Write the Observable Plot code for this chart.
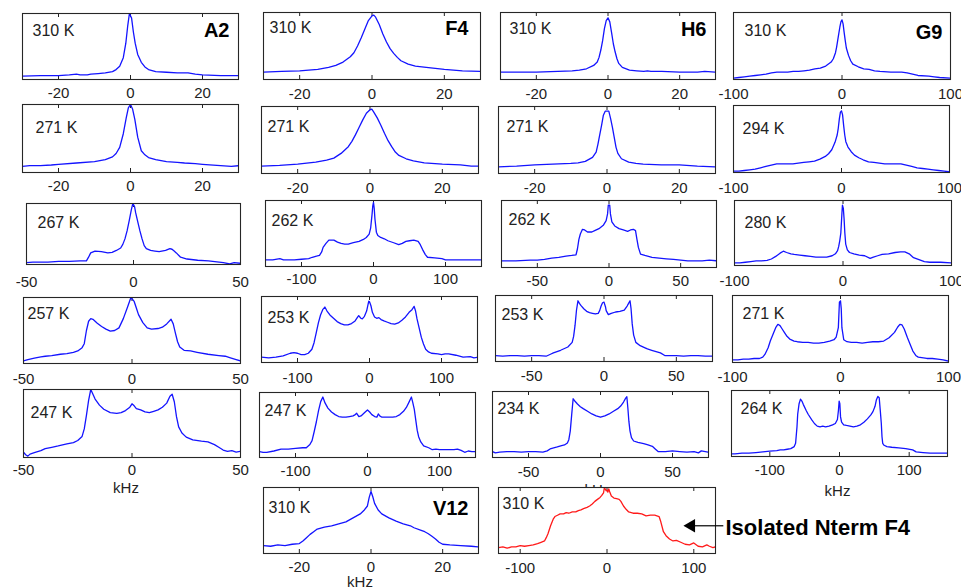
<!DOCTYPE html>
<html><head><meta charset="utf-8">
<script src="https://cdn.jsdelivr.net/npm/d3@7"></script>
<script src="https://cdn.jsdelivr.net/npm/@observablehq/plot@0.6"></script>
<style>
body{margin:0;background:#fff;}
#fig{position:relative;width:961px;height:588px;overflow:hidden;background:#fff;font-family:"Liberation Sans",Arial,sans-serif;}
#fig svg{position:absolute;}
</style></head><body><div id="fig"></div>
<script>
// ---------- DATA (x in kHz, y = normalised intensity) ----------
const residues = ["A2","F4","H6","G9"];
const extraNames = ["V12"];
const noteText = "Isolated Nterm F4";
const tempsA2 = ["310 K","271 K","267 K","257 K","247 K"];
const tempsF4 = ["310 K","271 K","262 K","253 K","247 K"];
const tempsH6 = ["310 K","271 K","262 K","253 K","234 K"];
const tempsG9 = ["310 K","294 K","280 K","271 K","264 K"];
const tempV12 = "310 K";
const tempIso = "310 K";
const ticks20 = [-20,0,20];
const ticks50 = [-50,0,50];
const ticks100 = [-100,0,100];

const a2_310 = [[-30,0.05],[-25,0.06],[-20,0.06],[-17,0.07],[-15,0.08],[-14,0.07],[-12,0.07],[-11,0.08],[-9,0.09],[-7,0.1],[-5,0.12],[-4,0.15],[-3,0.2],[-2,0.33],[-1.3,0.55],[-0.8,0.8],[-0.3,1.0],[0.3,0.93],[0.8,0.72],[1.3,0.55],[2,0.38],[3,0.26],[4,0.19],[5,0.15],[7,0.12],[10,0.11],[13,0.1],[16,0.1],[18,0.08],[20,0.07],[25,0.06],[30,0.06]];
const a2_271 = [[-30,0.09],[-28,0.1],[-25,0.1],[-22,0.11],[-20,0.12],[-15,0.14],[-10,0.16],[-7,0.19],[-5,0.23],[-4,0.28],[-3,0.37],[-2,0.57],[-1.2,0.8],[-0.6,0.95],[0,1.0],[0.6,0.93],[1.2,0.78],[2,0.52],[3,0.32],[4,0.26],[5,0.22],[7,0.19],[10,0.16],[13,0.15],[15,0.14],[18,0.13],[20,0.12],[25,0.1],[28,0.09],[30,0.1]];
const a2_267 = [[-50,0.03],[-47,0.04],[-43,0.04],[-40,0.04],[-35,0.05],[-30,0.05],[-25,0.06],[-22,0.06],[-21,0.12],[-20,0.19],[-18,0.22],[-15,0.21],[-12,0.19],[-10,0.2],[-8,0.23],[-6,0.27],[-5,0.33],[-4,0.42],[-3,0.55],[-2,0.72],[-1,0.9],[-0.3,1.0],[0.5,0.95],[1,0.85],[2,0.7],[3,0.55],[4,0.42],[5,0.31],[6,0.26],[8,0.23],[10,0.22],[12,0.21],[15,0.23],[17,0.26],[18,0.25],[19,0.22],[20,0.19],[22,0.12],[25,0.09],[30,0.07],[35,0.06],[40,0.04],[42,0.03],[45,0.01],[47,0.03],[50,0.02]];
const a2_257 = [[-50,0.04],[-48,0.06],[-45,0.08],[-42,0.1],[-40,0.11],[-37,0.12],[-33,0.14],[-30,0.15],[-27,0.17],[-25,0.19],[-23,0.24],[-22,0.3],[-21,0.5],[-20,0.64],[-19,0.68],[-18,0.67],[-16,0.61],[-14,0.56],[-12,0.52],[-10,0.49],[-8,0.5],[-6,0.54],[-4,0.68],[-2,0.86],[-0.5,1.0],[1,0.94],[2,0.84],[3,0.74],[5,0.62],[7,0.54],[9,0.52],[12,0.53],[14,0.55],[16,0.6],[18,0.67],[19,0.6],[20,0.46],[21,0.33],[22,0.25],[24,0.2],[27,0.19],[30,0.17],[35,0.14],[40,0.12],[43,0.11],[45,0.09],[48,0.06],[50,0.04]];
const a2_247 = [[-50,0.08],[-49,0.04],[-48,0.02],[-47,0.05],[-45,0.07],[-42,0.1],[-40,0.13],[-37,0.15],[-34,0.17],[-30,0.2],[-27,0.22],[-25,0.25],[-23,0.31],[-22,0.42],[-21,0.62],[-20,0.84],[-19,1.0],[-18,0.93],[-17,0.86],[-15,0.77],[-13,0.71],[-10,0.66],[-7,0.65],[-5,0.66],[-3,0.69],[-1,0.74],[0,0.79],[1,0.76],[2,0.72],[4,0.7],[6,0.67],[8,0.66],[10,0.68],[12,0.7],[14,0.74],[16,0.8],[17.5,0.9],[18.5,0.93],[19.5,0.82],[20.5,0.6],[21.5,0.45],[23,0.36],[25,0.3],[28,0.26],[32,0.24],[35,0.23],[38,0.19],[40,0.15],[42,0.11],[44,0.09],[46,0.1],[48,0.08],[50,0.09]];

const f4_310 = [[-30,0.11],[-25,0.12],[-20,0.13],[-15,0.15],[-12,0.18],[-10,0.21],[-8,0.26],[-6,0.34],[-5,0.4],[-4,0.5],[-3,0.62],[-2,0.75],[-1,0.88],[0,0.95],[0.5,0.96],[1,0.93],[2,0.82],[3,0.68],[4,0.56],[5,0.46],[6,0.39],[7,0.33],[8,0.28],[10,0.23],[12,0.2],[15,0.18],[20,0.15],[25,0.13],[30,0.12]];
const f4_271 = [[-30,0.11],[-25,0.12],[-20,0.14],[-15,0.17],[-12,0.2],[-10,0.23],[-8,0.3],[-6,0.4],[-5,0.48],[-4,0.58],[-3,0.69],[-2,0.8],[-1,0.9],[0,0.95],[0.5,0.96],[1,0.92],[2,0.83],[3,0.72],[4,0.6],[5,0.49],[6,0.4],[7,0.32],[8,0.27],[10,0.22],[12,0.19],[15,0.16],[20,0.14],[25,0.13],[28,0.11],[30,0.11]];
const f4_262 = [[-150,0.1],[-140,0.1],[-130,0.12],[-125,0.1],[-110,0.1],[-100,0.11],[-90,0.12],[-85,0.14],[-78,0.16],[-75,0.17],[-72,0.22],[-70,0.29],[-66,0.35],[-62,0.4],[-55,0.4],[-50,0.37],[-45,0.35],[-40,0.34],[-35,0.34],[-28,0.36],[-20,0.38],[-14,0.41],[-10,0.44],[-6,0.49],[-4,0.58],[-2,0.79],[-1,0.92],[0,0.97],[1,0.88],[2,0.72],[4,0.52],[6,0.47],[10,0.44],[15,0.42],[20,0.39],[28,0.36],[35,0.33],[40,0.35],[45,0.38],[50,0.39],[56,0.4],[62,0.38],[65,0.33],[68,0.26],[72,0.18],[75,0.14],[85,0.13],[95,0.12],[100,0.1],[115,0.1],[130,0.1],[150,0.1]];
const f4_253 = [[-150,0.08],[-140,0.07],[-130,0.08],[-120,0.1],[-110,0.14],[-105,0.15],[-100,0.14],[-95,0.12],[-90,0.12],[-85,0.14],[-80,0.2],[-77,0.3],[-74,0.45],[-71,0.6],[-68,0.72],[-65,0.8],[-62,0.84],[-59,0.78],[-55,0.72],[-50,0.67],[-45,0.62],[-40,0.59],[-35,0.57],[-30,0.57],[-25,0.59],[-20,0.63],[-17,0.68],[-15,0.71],[-12,0.67],[-10,0.66],[-7,0.7],[-4,0.78],[-2,0.88],[-1,0.93],[0,0.92],[2,0.86],[4,0.76],[7,0.69],[10,0.67],[13,0.68],[16,0.65],[20,0.63],[25,0.61],[30,0.59],[35,0.58],[40,0.6],[45,0.64],[50,0.69],[55,0.76],[59,0.8],[62,0.85],[64,0.78],[66,0.66],[69,0.52],[72,0.38],[75,0.28],[78,0.2],[82,0.16],[86,0.14],[95,0.13],[100,0.12],[105,0.13],[110,0.13],[120,0.11],[130,0.08],[140,0.09],[145,0.07],[150,0.08]];
const f4_247 = [[-150,0.09],[-145,0.08],[-140,0.08],[-130,0.1],[-120,0.13],[-110,0.13],[-100,0.14],[-90,0.15],[-85,0.15],[-80,0.2],[-77,0.26],[-74,0.4],[-71,0.55],[-68,0.72],[-65,0.86],[-62,0.93],[-59,0.84],[-55,0.76],[-50,0.7],[-45,0.66],[-40,0.63],[-35,0.62],[-30,0.62],[-25,0.63],[-20,0.64],[-17,0.66],[-15,0.68],[-12,0.63],[-9,0.64],[-5,0.68],[-2,0.71],[0,0.73],[3,0.7],[6,0.66],[10,0.63],[13,0.62],[15,0.67],[17,0.64],[20,0.62],[25,0.62],[30,0.62],[35,0.62],[40,0.63],[45,0.66],[50,0.71],[54,0.77],[58,0.86],[61,0.93],[63,0.84],[65,0.74],[67,0.58],[69,0.42],[71,0.32],[74,0.24],[78,0.18],[85,0.15],[90,0.12],[95,0.13],[100,0.12],[110,0.12],[120,0.12],[125,0.13],[130,0.11],[135,0.08],[140,0.1],[145,0.09],[150,0.09]];
const v12_310 = [[-30,0.12],[-28,0.11],[-26,0.13],[-24,0.12],[-22,0.14],[-20,0.15],[-19,0.19],[-18,0.24],[-17,0.29],[-16,0.33],[-15,0.37],[-13,0.4],[-11,0.42],[-9,0.45],[-7,0.48],[-5,0.54],[-3,0.6],[-2,0.65],[-1,0.72],[-0.5,0.85],[0,0.94],[0.5,0.86],[1,0.76],[2,0.66],[3,0.6],[5,0.54],[7,0.49],[9,0.45],[11,0.42],[12,0.39],[14,0.35],[15,0.33],[16,0.3],[17,0.26],[18,0.22],[19,0.17],[20,0.14],[22,0.13],[25,0.12],[28,0.11],[30,0.1]];

const h6_310 = [[-30,0.11],[-25,0.11],[-20,0.11],[-14,0.12],[-10,0.13],[-8,0.14],[-6,0.16],[-4,0.21],[-3,0.26],[-2.5,0.33],[-2,0.44],[-1.5,0.58],[-1,0.76],[-0.5,0.88],[0,0.92],[0.5,0.86],[1,0.7],[1.5,0.53],[2,0.41],[2.5,0.31],[3,0.24],[4,0.18],[6,0.14],[8,0.13],[10,0.12],[11,0.13],[12,0.12],[15,0.12],[20,0.11],[25,0.11],[27,0.12],[30,0.11]];
const h6_271 = [[-30,0.1],[-25,0.11],[-20,0.13],[-15,0.14],[-10,0.15],[-8,0.16],[-6,0.18],[-4,0.24],[-3,0.32],[-2.5,0.44],[-2,0.58],[-1.5,0.72],[-1,0.87],[-0.5,0.93],[0.5,0.93],[1,0.82],[1.5,0.69],[2,0.54],[2.5,0.39],[3,0.3],[4,0.22],[6,0.17],[8,0.15],[10,0.14],[15,0.13],[20,0.13],[25,0.11],[30,0.1]];
const h6_262 = [[-75,0.1],[-65,0.1],[-55,0.11],[-50,0.11],[-45,0.12],[-40,0.14],[-35,0.15],[-30,0.17],[-26,0.18],[-23,0.19],[-22,0.28],[-21,0.42],[-20,0.5],[-18.5,0.57],[-17,0.56],[-15,0.53],[-12,0.53],[-10,0.55],[-7,0.58],[-4,0.63],[-2,0.7],[-1,0.8],[-0.5,0.93],[0.5,0.93],[1,0.8],[2,0.68],[4,0.62],[7,0.58],[10,0.56],[13,0.54],[15,0.56],[17,0.57],[18.5,0.55],[19.5,0.42],[20.5,0.3],[22,0.2],[25,0.18],[30,0.15],[35,0.14],[40,0.13],[45,0.12],[50,0.11],[55,0.1],[65,0.1],[70,0.11],[75,0.1]];
const h6_253 = [[-75,0.09],[-70,0.08],[-65,0.09],[-60,0.09],[-55,0.08],[-50,0.09],[-45,0.09],[-40,0.08],[-37,0.11],[-35,0.13],[-30,0.17],[-25,0.22],[-22,0.29],[-21,0.38],[-20,0.55],[-19,0.78],[-18,0.92],[-17,0.88],[-16,0.85],[-14,0.8],[-12,0.76],[-10,0.74],[-8,0.73],[-6,0.72],[-4,0.73],[-3,0.77],[-2,0.84],[-1,0.89],[0,0.9],[1,0.83],[1.5,0.77],[3,0.71],[5,0.73],[8,0.75],[11,0.76],[14,0.78],[16,0.84],[17,0.88],[18,0.92],[18.7,0.8],[19.5,0.57],[20.5,0.4],[22,0.29],[25,0.24],[28,0.21],[30,0.19],[33,0.17],[36,0.15],[39,0.13],[42,0.09],[46,0.09],[50,0.09],[55,0.08],[60,0.09],[65,0.09],[70,0.08],[75,0.08]];
const h6_234 = [[-75,0.09],[-73,0.07],[-70,0.08],[-65,0.09],[-60,0.09],[-55,0.08],[-50,0.09],[-45,0.09],[-40,0.08],[-37,0.1],[-35,0.13],[-30,0.16],[-27,0.18],[-25,0.19],[-23,0.22],[-22,0.27],[-21,0.4],[-20,0.65],[-19,0.89],[-18,0.86],[-16,0.81],[-14,0.77],[-12,0.74],[-9,0.7],[-6,0.66],[-3,0.63],[0,0.61],[3,0.63],[6,0.66],[9,0.7],[12,0.74],[14,0.78],[16,0.84],[17.5,0.9],[18.3,0.92],[19,0.75],[19.7,0.55],[20.5,0.4],[21.5,0.3],[23,0.25],[26,0.23],[30,0.21],[33,0.19],[36,0.17],[38,0.13],[40,0.09],[45,0.09],[50,0.1],[55,0.09],[60,0.08],[65,0.09],[68,0.07],[70,0.1],[75,0.08]];
const iso_310 = [[-125,0.09],[-120,0.1],[-115,0.08],[-110,0.1],[-105,0.1],[-100,0.12],[-95,0.11],[-90,0.12],[-85,0.13],[-80,0.15],[-76,0.17],[-72,0.19],[-70,0.24],[-68,0.3],[-65,0.42],[-62,0.52],[-60,0.56],[-57,0.58],[-54,0.6],[-50,0.6],[-47,0.62],[-44,0.61],[-40,0.63],[-36,0.63],[-33,0.65],[-30,0.66],[-27,0.68],[-23,0.7],[-20,0.72],[-17,0.75],[-14,0.79],[-11,0.82],[-8,0.85],[-6,0.88],[-4,0.92],[-3,1.0],[-1,0.95],[0,0.96],[1,0.93],[2,0.98],[3,0.94],[5,0.87],[8,0.84],[11,0.83],[14,0.82],[16,0.79],[19,0.72],[22,0.67],[25,0.63],[30,0.61],[35,0.61],[40,0.6],[45,0.57],[50,0.58],[55,0.58],[60,0.56],[62,0.48],[65,0.33],[68,0.27],[72,0.22],[76,0.19],[80,0.2],[85,0.17],[90,0.14],[95,0.13],[100,0.16],[105,0.11],[110,0.1],[115,0.13],[118,0.11],[122,0.09],[125,0.1]];

const g9_310 = [[-100,0.02],[-95,0.03],[-90,0.04],[-85,0.05],[-80,0.06],[-75,0.07],[-70,0.08],[-65,0.1],[-60,0.11],[-55,0.11],[-50,0.11],[-45,0.12],[-40,0.12],[-35,0.13],[-30,0.14],[-25,0.16],[-20,0.17],[-15,0.2],[-10,0.26],[-8,0.31],[-6,0.4],[-5,0.48],[-4,0.58],[-3,0.68],[-2,0.78],[-1,0.86],[0,0.89],[1,0.83],[2,0.7],[3,0.58],[4,0.47],[6,0.36],[8,0.28],[10,0.23],[15,0.19],[20,0.16],[25,0.15],[30,0.13],[35,0.12],[45,0.11],[55,0.11],[60,0.1],[65,0.08],[70,0.06],[80,0.05],[85,0.04],[90,0.03],[100,0.02]];
const g9_294 = [[-100,0.02],[-95,0.02],[-90,0.03],[-85,0.04],[-80,0.05],[-75,0.07],[-70,0.09],[-65,0.11],[-60,0.13],[-55,0.13],[-50,0.13],[-45,0.13],[-40,0.14],[-35,0.15],[-30,0.16],[-25,0.17],[-20,0.2],[-15,0.24],[-12,0.28],[-9,0.34],[-6,0.45],[-4,0.56],[-3,0.66],[-2,0.8],[-1,0.9],[0,0.92],[1,0.86],[2,0.7],[3,0.56],[4,0.46],[6,0.38],[9,0.31],[12,0.26],[16,0.22],[20,0.19],[25,0.16],[30,0.15],[35,0.14],[40,0.13],[45,0.13],[50,0.13],[55,0.13],[60,0.11],[65,0.09],[70,0.07],[75,0.06],[80,0.05],[85,0.04],[90,0.03],[95,0.02],[100,0.01]];
const g9_280 = [[-100,0.04],[-95,0.04],[-90,0.05],[-85,0.06],[-80,0.07],[-75,0.07],[-70,0.08],[-66,0.1],[-62,0.14],[-58,0.19],[-55,0.22],[-52,0.2],[-48,0.18],[-45,0.17],[-40,0.16],[-35,0.15],[-30,0.14],[-25,0.13],[-20,0.13],[-15,0.13],[-10,0.15],[-7,0.18],[-5,0.23],[-4,0.29],[-3,0.38],[-2,0.5],[-1,0.8],[-0.5,0.93],[0.3,0.88],[1,0.72],[1.7,0.5],[2.5,0.33],[4,0.24],[6,0.2],[10,0.18],[15,0.16],[20,0.15],[25,0.11],[28,0.13],[32,0.15],[36,0.17],[42,0.18],[48,0.2],[53,0.21],[57,0.21],[61,0.18],[65,0.12],[70,0.09],[75,0.06],[80,0.05],[90,0.05],[100,0.04]];
const g9_271 = [[-100,0.04],[-95,0.04],[-90,0.05],[-85,0.05],[-80,0.06],[-75,0.06],[-72,0.08],[-70,0.12],[-67,0.22],[-65,0.32],[-62,0.44],[-60,0.52],[-58,0.57],[-56,0.55],[-54,0.5],[-52,0.45],[-50,0.4],[-47,0.35],[-43,0.32],[-40,0.31],[-35,0.3],[-30,0.3],[-25,0.29],[-20,0.29],[-15,0.3],[-10,0.32],[-6,0.34],[-4,0.38],[-2,0.52],[-1,0.9],[0,0.92],[0.7,0.8],[1.3,0.52],[3,0.34],[6,0.31],[10,0.3],[15,0.3],[20,0.29],[25,0.3],[30,0.31],[35,0.31],[40,0.32],[45,0.37],[50,0.45],[53,0.53],[55,0.57],[57,0.56],[59,0.5],[62,0.37],[65,0.25],[67,0.17],[70,0.1],[72,0.08],[80,0.06],[85,0.06],[90,0.05],[95,0.04],[100,0.02]];
const g9_264 = [[-155,0.04],[-150,0.04],[-140,0.05],[-130,0.05],[-120,0.06],[-110,0.07],[-100,0.08],[-90,0.09],[-85,0.1],[-80,0.1],[-75,0.11],[-70,0.12],[-65,0.15],[-63,0.2],[-61,0.45],[-60,0.64],[-58,0.8],[-56,0.87],[-54,0.84],[-52,0.79],[-48,0.7],[-45,0.64],[-40,0.56],[-36,0.5],[-32,0.46],[-28,0.45],[-24,0.46],[-20,0.45],[-15,0.46],[-10,0.48],[-6,0.5],[-3,0.56],[-1.5,0.7],[-0.5,0.84],[0.5,0.8],[1.5,0.6],[3,0.52],[6,0.48],[10,0.47],[15,0.46],[20,0.45],[25,0.46],[30,0.48],[35,0.52],[40,0.57],[45,0.63],[48,0.68],[51,0.76],[53,0.86],[55,0.91],[57,0.89],[58.5,0.7],[60,0.5],[61,0.3],[62,0.2],[64,0.17],[68,0.15],[75,0.14],[85,0.13],[95,0.12],[105,0.1],[110,0.07],[120,0.06],[130,0.05],[140,0.05],[150,0.05],[155,0.05]];

// annotation anchor (in kHz / normalised units of the isolated-F4 panel)
const arrowData = [{x1: 134, x2: 99, hx: 97, y: 0.42}];
const noteData = [{x: 136.5, y: 0.38, t: noteText}];

// ---------- LAYOUT ----------
const BLUE = "#1414ff", RED = "#ff1a1a";
const panels = [
  // A2 column
  {data:a2_310, temp:tempsA2[0], name:residues[0], nl:[-9,17], box:[22,13,238,79], dom:[-30,30], ticks:ticks20, gap:13, tl:[10,17]},
  {data:a2_271, temp:tempsA2[1], box:[22,104,238,172], dom:[-30,30], ticks:ticks20, gap:13, tl:[13,23]},
  {data:a2_267, temp:tempsA2[2], box:[26,203,240,264], dom:[-50,50], ticks:ticks50, gap:17, tl:[11,19]},
  {data:a2_257, temp:tempsA2[3], box:[23,297,240,363], dom:[-50,50], ticks:ticks50, gap:15, tl:[4,16]},
  {data:a2_247, temp:tempsA2[4], box:[23,389,240,457], dom:[-50,50], ticks:ticks50, gap:12, tl:[7,23], khz:[-6,31]},
  // F4 column
  {data:f4_310, temp:tempsF4[0], name:residues[1], nl:[-12,16], box:[263,12,480,79], dom:[-30,30], ticks:ticks20, gap:14, tl:[6,15]},
  {data:f4_271, temp:tempsF4[1], box:[261,106,478,173], dom:[-30,30], ticks:ticks20, gap:14, tl:[6,20]},
  {data:f4_262, temp:tempsF4[2], box:[265,200,481,266], dom:[-150,150], ticks:ticks100, gap:12, tl:[6,20]},
  {data:f4_253, temp:tempsF4[3], box:[261,296,477,362], dom:[-150,150], ticks:ticks100, gap:15, tl:[6,21]},
  {data:f4_247, temp:tempsF4[4], box:[259,392,475,457], dom:[-150,150], ticks:ticks100, gap:13, tl:[5,18]},
  {data:v12_310, temp:tempV12, name:extraNames[0], nl:[-10,21], box:[263,487,478,553], dom:[-30,30], ticks:ticks20, gap:13, tl:[5,20], khz:[-11,29]},
  // H6 column
  {data:h6_310, temp:tempsH6[0], name:residues[2], nl:[-9,17], box:[500,12,715,79], dom:[-30,30], ticks:ticks20, gap:14, tl:[9,16]},
  {data:h6_271, temp:tempsH6[1], box:[498,106,715,173], dom:[-30,30], ticks:ticks20, gap:14, tl:[8,20]},
  {data:h6_262, temp:tempsH6[2], box:[501,200,716,267], dom:[-75,75], ticks:ticks50, gap:13, tl:[7,19]},
  {data:h6_253, temp:tempsH6[3], box:[495,295,712,361], dom:[-75,75], ticks:ticks50, gap:14, tl:[6,19]},
  {data:h6_234, temp:tempsH6[4], box:[492,391,708,457], dom:[-75,75], ticks:ticks50, gap:14, tl:[5,17], khz:[-3,33]},
  {data:iso_310, temp:tempIso, box:[498,487,715,553], dom:[-125,125], ticks:ticks100, gap:14, tl:[4,16], color:RED, fillBox:true, mr:260, note:true},
  // G9 column
  {data:g9_310, temp:tempsG9[0], name:residues[3], nl:[-8,20], box:[733,12,950,79], dom:[-100,100], ticks:ticks100, gap:14, tl:[11,18]},
  {data:g9_294, temp:tempsG9[1], box:[733,105,949,172], dom:[-100,100], ticks:ticks100, gap:15, tl:[9,23]},
  {data:g9_280, temp:tempsG9[2], box:[734,200,951,265], dom:[-100,100], ticks:ticks100, gap:15, tl:[10,22]},
  {data:g9_271, temp:tempsG9[3], box:[732,295,948,362], dom:[-100,100], ticks:ticks100, gap:14, tl:[10,18]},
  {data:g9_264, temp:tempsG9[4], box:[731,390,947,456], dom:[-155,155], ticks:ticks100, gap:13, tl:[9,18], khz:[-2,35]}
];

const fig = document.getElementById("fig");
const ML = 30, MR = 30, MT = 3, MB = 42;
const FONT = '"Liberation Sans", Arial, sans-serif';

for (const p of panels) {
  const [L, T, R, B] = p.box;
  const w = R - L, h = B - T;
  const mr = p.mr ?? MR;
  const marks = [];
  if (p.fillBox) marks.push(Plot.frame({fill: "white"}));
  marks.push(Plot.ruleX(p.ticks, {y1: 0, y2: 4 / h, stroke: "#222"}));
  marks.push(Plot.ruleX(p.ticks, {y1: 1 - 4 / h, y2: 1, stroke: "#222"}));
  marks.push(Plot.line(p.data, {x: d => d[0], y: d => d[1], stroke: p.color ?? BLUE, strokeWidth: 1.3, clip: true}));
  marks.push(Plot.frame({stroke: "#262626", strokeWidth: 1.1}));
  marks.push(Plot.text([p.temp], {text: d => d, frameAnchor: "top-left", lineAnchor: "middle", textAnchor: "start", dx: p.tl[0], dy: p.tl[1], fontSize: 16, fill: "#222"}));
  if (p.name) marks.push(Plot.text([p.name], {text: d => d, frameAnchor: "top-right", lineAnchor: "middle", textAnchor: "end", dx: p.nl[0], dy: p.nl[1], fontSize: 20, fontWeight: "bold", fill: "#000"}));
  if (p.khz) marks.push(Plot.text(["kHz"], {text: d => d, frameAnchor: "bottom", lineAnchor: "middle", dx: p.khz[0], dy: p.khz[1], fontSize: 15, fill: "#222"}));
  if (p.note) {
    marks.push(Plot.link(arrowData, {x1: "x1", x2: "x2", y1: "y", y2: "y", stroke: "#000", strokeWidth: 1.2}));
    marks.push(Plot.dot(arrowData, {x: "hx", y: "y", symbol: "triangle", r: 5, fill: "#000", rotate: -90}));
    marks.push(Plot.text(noteData, {x: "x", y: "y", text: "t", textAnchor: "start", fontSize: 22, fontWeight: "bold", fill: "#000"}));
  }
  const svg = Plot.plot({
    width: w + ML + mr, height: h + MT + MB,
    marginLeft: ML, marginRight: mr, marginTop: MT, marginBottom: MB,
    style: {background: "transparent", overflow: "visible", fontFamily: FONT, fontSize: "15px", color: "#222"},
    x: {domain: p.dom, ticks: p.ticks, tickSize: 0, tickPadding: p.gap - 5, tickFormat: d => String(d), label: null},
    y: {domain: [0, 1], axis: null},
    marks
  });
  svg.style.position = "absolute";
  svg.style.left = (L - ML) + "px";
  svg.style.top = (T - MT) + "px";
  svg.style.maxWidth = "none";
  fig.appendChild(svg);
}
</script></body></html>
